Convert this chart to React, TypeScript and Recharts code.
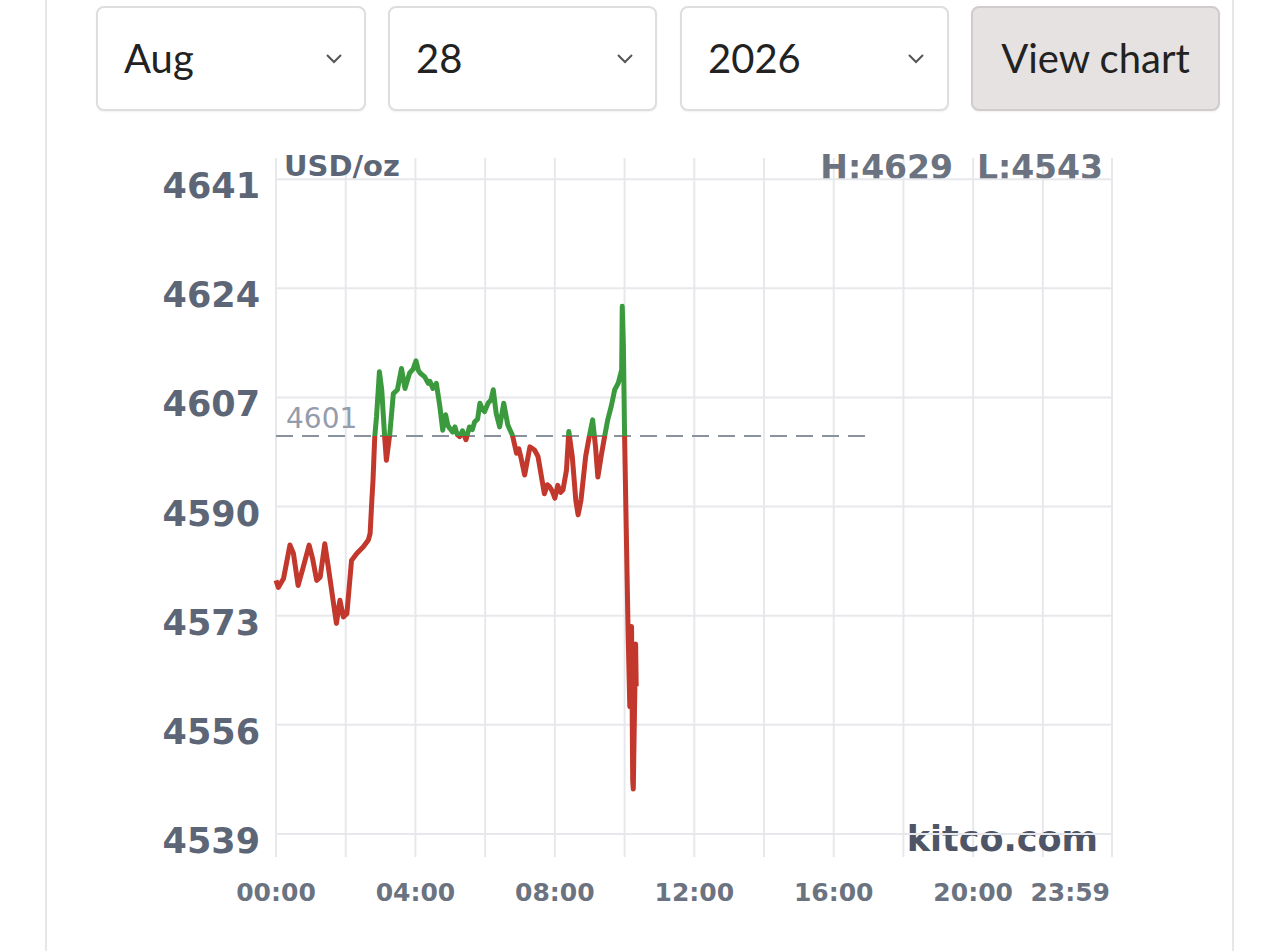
import React from "react";
import {
  LineChart,
  Line,
  XAxis,
  YAxis,
  CartesianGrid,
  ReferenceLine,
  Customized,
} from "recharts";

// minutes since 00:00 and spot price
const minutes = [
  0, 4, 13, 24, 30, 38, 47, 57, 63, 70, 76, 84, 90, 99, 104, 110, 116, 122,
  130, 139, 150, 159, 162, 165, 167, 170, 173, 178, 182, 187, 190, 196, 202,
  209, 216, 222, 230, 236, 241, 245, 248, 256, 262, 265, 270, 276, 282, 287,
  292, 296, 299, 304, 308, 312, 316, 321, 327, 333, 338, 342, 347, 351, 355,
  359, 365, 370, 374, 379, 385, 392, 399, 407, 414, 418, 422, 428, 437, 445,
  451, 457, 462, 467, 471, 476, 480, 485, 490, 494, 500, 504, 510, 516, 520,
  525, 533, 539, 545, 550, 554, 560, 566, 571, 577, 583, 589, 595, 596, 598,
  600, 606, 609, 612, 614, 615, 617, 619, 620,
];
const prices = [
  4578.5, 4577.4, 4578.8, 4584.0, 4582.7, 4577.7, 4580.6, 4584.0, 4581.9,
  4578.5, 4579.0, 4584.2, 4580.6, 4574.9, 4571.8, 4575.4, 4572.8, 4573.3,
  4581.6, 4582.7, 4583.7, 4584.8, 4585.8, 4591.0, 4594.1, 4600.9, 4604.0,
  4611.0, 4608.2, 4600.9, 4597.2, 4601.4, 4607.6, 4608.2, 4611.5, 4608.4,
  4610.8, 4611.4, 4612.7, 4611.2, 4610.8, 4610.2, 4609.2, 4609.5, 4608.4,
  4609.2, 4605.6, 4601.9, 4604.3, 4602.6, 4602.2, 4601.6, 4602.4, 4601.2,
  4600.9, 4601.8, 4600.4, 4602.4, 4602.0, 4603.2, 4603.6, 4606.1, 4605.2,
  4604.8, 4606.1, 4606.6, 4608.2, 4604.5, 4602.4, 4606.1, 4602.7, 4601.1,
  4598.3, 4599.0, 4597.5, 4594.9, 4599.3, 4598.8, 4597.8, 4594.6, 4592.0,
  4593.4, 4593.1, 4592.3, 4591.3, 4593.3, 4592.2, 4592.6, 4595.7, 4601.7,
  4597.8, 4591.0, 4588.7, 4591.0, 4597.8, 4600.8, 4603.5, 4599.3, 4594.6,
  4598.0, 4601.1, 4603.5, 4605.6, 4608.2, 4609.2, 4611.3, 4621.2, 4614.9,
  4601.1, 4570.7, 4558.8, 4571.3, 4547.3, 4546.0, 4557.7, 4568.6, 4562.0,
];

const prevClose = 4601;
const prevCloseEnd = 1025;
const yTicks = [4539, 4556, 4573, 4590, 4607, 4624, 4641];
const xTicks = [0, 120, 240, 360, 480, 600, 720, 840, 960, 1080, 1200, 1320, 1439];
const xLabels: Record<number, string> = {
  0: "00:00",
  240: "04:00",
  480: "08:00",
  720: "12:00",
  960: "16:00",
  1200: "20:00",
  1439: "23:59",
};

const data = minutes.map((t, i) => ({ t, price: prices[i] }));
const hi = Math.max(...prices);
const lo = Math.min(...prices);
const splitAt = (hi - prevClose) / (hi - lo);

const FONT = "'DejaVu Sans', sans-serif";
const PAGE_FONT = "Lato, 'Noto Sans', sans-serif";
const GRID = "#e7e8ec";

function XTick(props: any) {
  const { x, y, payload } = props;
  const label = xLabels[payload.value];
  if (!label) return null;
  const last = payload.value === 1439;
  return (
    <text
      x={last ? x - 2 : x}
      y={y + 44}
      textAnchor={last ? "end" : "middle"}
      fill="#6b7280"
      fontFamily={FONT}
      fontWeight={700}
      fontSize={25}
    >
      {label}
    </text>
  );
}

function YTick(props: any) {
  const { x, y, payload } = props;
  return (
    <text
      x={x}
      y={y + 19}
      textAnchor="end"
      fill="#5d6676"
      fontFamily={FONT}
      fontWeight={700}
      fontSize={35}
    >
      {payload.value}
    </text>
  );
}

function Notes() {
  return (
    <g fontFamily={FONT} fontWeight={700}>
      <text x={284} y={176} fontSize={29} fill="#5d6676">
        USD/oz
      </text>
      <text x={953} y={179} fontSize={33} fill="#6b7280" textAnchor="end">
        H:4629
      </text>
      <text x={1103} y={179} fontSize={33} fill="#6b7280" textAnchor="end">
        L:4543
      </text>
      <text x={1098} y={851} fontSize={35} fill="#4e5566" textAnchor="end">
        kitco.com
      </text>
      <text x={286} y={428} fontSize={28} fontWeight={400} fill="#959cab">
        {prevClose}
      </text>
    </g>
  );
}

function Chevron({ left }: { left: number }) {
  return (
    <svg
      width={18}
      height={12}
      style={{ position: "absolute", left, top: 53 }}
      viewBox="0 0 18 12"
    >
      <polyline points="2,2 9,9 16,2" fill="none" stroke="#555" strokeWidth={2} />
    </svg>
  );
}

const boxStyle: React.CSSProperties = {
  position: "absolute",
  top: 6,
  height: 105,
  border: "2px solid #dedede",
  borderRadius: 8,
  boxSizing: "border-box",
  background: "#fff",
  fontFamily: PAGE_FONT,
  fontSize: 40,
  color: "#222",
  lineHeight: "100px",
  paddingLeft: 26,
  boxShadow: "0 1px 2px rgba(0,0,0,0.06)",
};

export default function App() {
  return (
    <div
      style={{
        position: "absolute",
        left: 0,
        top: 0,
        width: 1280,
        height: 951,
        background: "#fff",
        overflow: "hidden",
      }}
    >
      <div style={{ position: "absolute", left: 45, top: 0, width: 2, height: 951, background: "#e6e7ea" }} />
      <div style={{ position: "absolute", left: 1232, top: 0, width: 2, height: 951, background: "#e6e7ea" }} />

      <div style={{ ...boxStyle, left: 96, width: 270 }}>Aug</div>
      <Chevron left={325} />
      <div style={{ ...boxStyle, left: 388, width: 269 }}>28</div>
      <Chevron left={616} />
      <div style={{ ...boxStyle, left: 680, width: 269 }}>2026</div>
      <Chevron left={907} />
      <div
        style={{
          ...boxStyle,
          left: 971,
          width: 249,
          background: "#e5e2e1",
          border: "2px solid #cfcccb",
          paddingLeft: 0,
          textAlign: "center",
        }}
      >
        View chart
      </div>

      <div style={{ position: "absolute", left: 0, top: 0 }}>
        <LineChart
          width={1280}
          height={951}
          data={data}
          margin={{ top: 158, right: 168, bottom: 34, left: 0 }}
        >
          <defs>
            <linearGradient id="splitColor" x1="0" y1="0" x2="0" y2="1">
              <stop offset={splitAt} stopColor="#3c9a3e" />
              <stop offset={splitAt} stopColor="#c2382d" />
            </linearGradient>
          </defs>
          <CartesianGrid stroke={GRID} strokeWidth={2} horizontal={false} />
          {yTicks.map((v) => (
            <ReferenceLine key={v} y={v} stroke={GRID} strokeWidth={2} />
          ))}
          <XAxis
            dataKey="t"
            type="number"
            domain={[0, 1439]}
            ticks={xTicks}
            interval={0}
            height={60}
            axisLine={false}
            tickLine={false}
            tickSize={0}
            tickMargin={0}
            tick={<XTick />}
          />
          <YAxis
            type="number"
            domain={[4535.4, 4644.3]}
            ticks={yTicks}
            interval={0}
            width={276}
            axisLine={false}
            tickLine={false}
            tickSize={0}
            tickMargin={16}
            allowDataOverflow
            tick={<YTick />}
          />
          <ReferenceLine
            segment={[
              { x: 0, y: prevClose },
              { x: prevCloseEnd, y: prevClose },
            ]}
            stroke="#8a929e"
            strokeWidth={2}
            strokeDasharray="17 9"
          />
          <Line
            type="linear"
            dataKey="price"
            stroke="url(#splitColor)"
            strokeWidth={5}
            strokeLinejoin="round"
            dot={false}
            activeDot={false}
            isAnimationActive={false}
          />
          <Customized component={Notes} />
        </LineChart>
      </div>
    </div>
  );
}
